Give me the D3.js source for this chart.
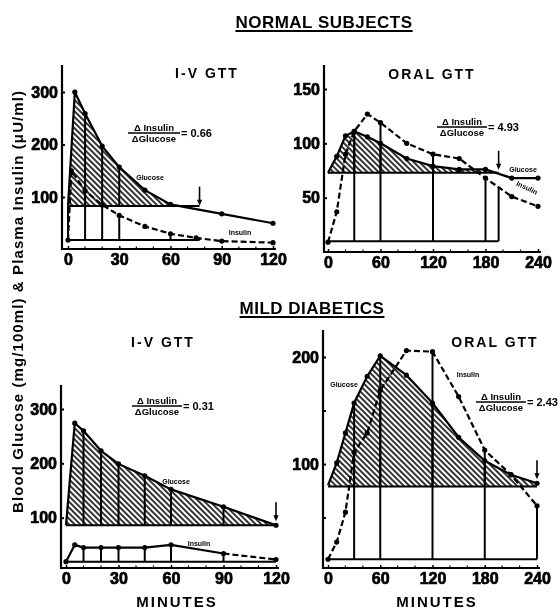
<!DOCTYPE html>
<meta charset="utf-8">
<head>
  <script src="https://cdnjs.cloudflare.com/ajax/libs/d3/7.8.5/d3.min.js"></script>
  <style>
    body { margin: 0; background: #fff; }
    svg { display: block; filter: grayscale(100%); }
    text { font-family: "Liberation Sans", Arial, sans-serif; font-weight: bold; fill: #000; }
    .num { font-family: "Liberation Sans Narrow", "Liberation Sans", sans-serif; font-size: 16px; stroke: #000; stroke-width: 0.7px; }
  </style>
</head>
<body>
<div id="my_dataviz"></div>
<script>

// ---- data ----
// normal subjects, i-v gtt
var nivGlucTimes = [0, 4, 10, 20, 30, 45, 60, 90, 120];
var nivGlucose   = [83, 300, 259, 197, 157, 113, 86, 68, 50];
var nivInsTimes  = [0, 2, 10, 20, 30, 45, 60, 75, 90, 120];
var nivInsulin   = [18, 150, 112, 85, 65, 44, 30, 22, 16, 13];

// normal subjects, oral gtt
var noTimes   = [0, 10, 20, 30, 45, 60, 90, 120, 150, 180, 210, 240];
var noGlucose = [73, 88, 107, 111, 106, 100, 86, 79, 76, 76, 68, 68];
var noInsulin = [9, 37, 90, 111, 127, 119, 100, 90, 86, 68, 51, 42];

// mild diabetics, i-v gtt
var mivTimes   = [0, 5, 10, 20, 30, 45, 60, 90, 120];
var mivGlucose = [86, 274, 260, 223, 199, 177, 152, 120, 86];
var mivInsulin = [19, 50, 45, 45, 45, 45, 50, 34, 23];

// mild diabetics, oral gtt
var moTimes   = [0, 10, 20, 30, 45, 60, 90, 120, 150, 180, 210, 240];
var moGlucose = [80, 101, 129, 157, 182, 201, 183, 157, 125, 103, 90, 82];
var moInsulin = [11, 27, 55, 111, 129, 169, 206, 205, 163, 113, 90, 61];

// fasting levels, end of test (arrow) and the ratio per panel
var fastingGlucose = [83, 73, 86, 79];
var fastingInsulin = [18, 10, 19, 11];
var endTimes = [77, 195, 120, 240];
var ratios = ["0.66", "4.93", "0.31", "2.43"];

// sample times where vertical strips are drawn
var nivGlucStrips = [10, 20, 30];
var nivInsStrips  = [10, 20, 30, 60, 77];
var noGlucStrips  = [30, 60, 120, 180];
var noInsStrips   = [30, 60, 120, 180, 195];
var mivGlucStrips = [10, 20, 30, 45, 60, 90];
var mivInsStrips  = [10, 20, 30, 45, 60, 90];
var moGlucStrips  = [30, 60, 120, 180];
var moInsStrips   = [30, 60, 120, 180, 240];

// ticks
var ivXTicks = [0, 30, 60, 90, 120];
var oralXTicks = [0, 60, 120, 180, 240];
var nivYTicks = [100, 200, 300];
var noYTicks = [50, 100, 150];
var mivYTicks = [100, 200, 300];
var moYTicks = [50, 100, 150, 200];
var moYLabels = [100, 200];

var panels = [
  { gT: nivGlucTimes, gV: nivGlucose, iT: nivInsTimes, iV: nivInsulin,
    gStrips: nivGlucStrips, iStrips: nivInsStrips,
    xDomain: [0, 120], xRange: [68, 273], xTicks: ivXTicks, minor: 10,
    yDomain: [0, 300], yRange: [249.5, 92], yTicks: nivYTicks, yLabels: nivYTicks,
    axisX: 62, axisTop: 65, axisY: 249, axisRight: 276,
    startLink: true, solidUntil: 0,
    title: "I-V GTT", titleX: 207, titleY: 78,
    frac: [154, 133, 52],
    gLab: [150, 180, 0], iLab: [240, 235, 0] },
  { gT: noTimes, gV: noGlucose, iT: noTimes, iV: noInsulin,
    gStrips: noGlucStrips, iStrips: noInsStrips,
    xDomain: [0, 240], xRange: [328, 538], xTicks: oralXTicks, minor: 20,
    yDomain: [0, 150], yRange: [252, 89], yTicks: noYTicks, yLabels: noYTicks,
    axisX: 324, axisTop: 65, axisY: 252, axisRight: 541,
    startLink: false, solidUntil: 0,
    title: "ORAL GTT", titleX: 432, titleY: 79,
    frac: [462, 127, 50],
    gLab: [523, 172, 0], iLab: [526, 190, 25] },
  { gT: mivTimes, gV: mivGlucose, iT: mivTimes, iV: mivInsulin,
    gStrips: mivGlucStrips, iStrips: mivInsStrips,
    xDomain: [0, 120], xRange: [66, 276], xTicks: ivXTicks, minor: 10,
    yDomain: [0, 300], yRange: [572, 409], yTicks: mivYTicks, yLabels: mivYTicks,
    axisX: 61, axisTop: 385, axisY: 568, axisRight: 279,
    startLink: false, solidUntil: 7,
    title: "I-V GTT", titleX: 163, titleY: 347,
    frac: [157, 406, 50],
    gLab: [176, 484, 0], iLab: [199, 546, 0] },
  { gT: moTimes, gV: moGlucose, iT: moTimes, iV: moInsulin,
    gStrips: moGlucStrips, iStrips: moInsStrips,
    xDomain: [0, 240], xRange: [328, 537], xTicks: oralXTicks, minor: 20,
    yDomain: [0, 200], yRange: [571, 357], yTicks: moYTicks, yLabels: moYLabels,
    axisX: 323, axisTop: 330, axisY: 568, axisRight: 540,
    startLink: false, solidUntil: 0,
    title: "ORAL GTT", titleX: 495, titleY: 347,
    frac: [501, 402, 50],
    gLab: [344, 387, 0], iLab: [468, 377, 0] }
];

var svg = d3.select("#my_dataviz")
  .append("svg")
  .attr("width", 560)
  .attr("height", 610);

var defs = svg.append("defs");
defs.append("pattern")
  .attr("id", "hatch")
  .attr("patternUnits", "userSpaceOnUse")
  .attr("width", 4).attr("height", 4)
  .attr("patternTransform", "rotate(-45)")
  .append("line")
  .attr("x1", 2).attr("x2", 2).attr("y1", -1).attr("y2", 5)
  .attr("stroke", "#000").attr("stroke-width", 1.6);

function valueAt(ts, vs, t) {
  return d3.scaleLinear().domain(ts).range(vs).clamp(true)(t);
}

panels.forEach(function (p, i) {
  var x = d3.scaleLinear().domain(p.xDomain).range(p.xRange);
  var y = d3.scaleLinear().domain(p.yDomain).range(p.yRange);
  var g = svg.append("g");
  var gBase = fastingGlucose[i], iBase = fastingInsulin[i], tEnd = endTimes[i];
  var gData = d3.zip(p.gT, p.gV), iData = d3.zip(p.iT, p.iV);

  // hatched glucose area above the fasting level
  defs.append("clipPath").attr("id", "clip" + i)
    .append("rect")
    .attr("x", x(0)).attr("y", 0)
    .attr("width", x(tEnd) - x(0))
    .attr("height", y(gBase));

  g.append("path")
    .datum(gData)
    .attr("clip-path", "url(#clip" + i + ")")
    .attr("fill", "url(#hatch)")
    .attr("d", d3.area()
      .x(function (d) { return x(d[0]); })
      .y0(y(gBase))
      .y1(function (d) { return y(d[1]); }));

  // baselines
  g.append("line")
    .attr("x1", x(0)).attr("x2", x(tEnd))
    .attr("y1", y(gBase)).attr("y2", y(gBase))
    .attr("stroke", "#000").attr("stroke-width", 2);
  g.append("line")
    .attr("x1", x(0)).attr("x2", x(tEnd))
    .attr("y1", y(iBase)).attr("y2", y(iBase))
    .attr("stroke", "#000").attr("stroke-width", 2);
  if (p.startLink) {
    g.append("line")
      .attr("x1", x(0)).attr("x2", x(0))
      .attr("y1", y(iBase)).attr("y2", y(gBase))
      .attr("stroke", "#000").attr("stroke-width", 2);
  }

  // vertical strips
  g.selectAll("gstrip")
    .data(p.gStrips)
    .enter()
    .append("line")
    .attr("x1", function (d) { return x(d); })
    .attr("x2", function (d) { return x(d); })
    .attr("y1", y(gBase))
    .attr("y2", function (d) { return y(valueAt(p.gT, p.gV, d)); })
    .attr("stroke", "#000").attr("stroke-width", 2);
  g.selectAll("istrip")
    .data(p.iStrips)
    .enter()
    .append("line")
    .attr("x1", function (d) { return x(d); })
    .attr("x2", function (d) { return x(d); })
    .attr("y1", y(iBase))
    .attr("y2", function (d) { return y(valueAt(p.iT, p.iV, d)); })
    .attr("stroke", "#000").attr("stroke-width", 2);

  var line = d3.line()
    .x(function (d) { return x(d[0]); })
    .y(function (d) { return y(d[1]); });

  // glucose (solid)
  g.append("path")
    .datum(gData)
    .attr("fill", "none")
    .attr("stroke", "#000").attr("stroke-width", 2.2)
    .attr("d", line);

  // insulin (dashed, or solid then dashed)
  if (p.solidUntil > 0) {
    g.append("path")
      .datum(iData.slice(0, p.solidUntil + 1))
      .attr("fill", "none")
      .attr("stroke", "#000").attr("stroke-width", 2.2)
      .attr("d", line);
    g.append("path")
      .datum(iData.slice(p.solidUntil))
      .attr("fill", "none")
      .attr("stroke", "#000").attr("stroke-width", 2.2)
      .attr("stroke-dasharray", "6,3")
      .attr("d", line);
  } else {
    g.append("path")
      .datum(iData)
      .attr("fill", "none")
      .attr("stroke", "#000").attr("stroke-width", 2.2)
      .attr("stroke-dasharray", "6,3")
      .attr("d", line);
  }

  // dots
  g.selectAll("gdot")
    .data(gData.slice(1))
    .enter()
    .append("circle")
    .attr("cx", function (d) { return x(d[0]); })
    .attr("cy", function (d) { return y(d[1]); })
    .attr("r", 2.6)
    .style("fill", "#000");
  g.selectAll("idot")
    .data(iData)
    .enter()
    .append("circle")
    .attr("cx", function (d) { return x(d[0]); })
    .attr("cy", function (d) { return y(d[1]); })
    .attr("r", 2.6)
    .style("fill", "#000");

  // arrow marking end of test
  var ay = y(valueAt(p.gT, p.gV, tEnd));
  g.append("line")
    .attr("x1", x(tEnd)).attr("x2", x(tEnd))
    .attr("y1", ay - 23).attr("y2", ay - 8)
    .attr("stroke", "#000").attr("stroke-width", 1.6);
  g.append("path")
    .attr("d", "M" + (x(tEnd) - 2.6) + "," + (ay - 10) + "L" + (x(tEnd) + 2.6) + "," + (ay - 10) + "L" + x(tEnd) + "," + (ay - 4) + "Z")
    .attr("fill", "#000");

  // axes
  g.append("g")
    .attr("transform", "translate(0," + p.axisY + ")")
    .call(d3.axisBottom(x).tickValues(p.xTicks).tickSize(-3).tickPadding(5))
    .call(function (a) { a.select(".domain").remove(); })
    .call(function (a) { a.selectAll("line").attr("stroke-width", 1.5); })
    .selectAll("text").attr("class", "num");

  g.selectAll("minor")
    .data(d3.range(p.xDomain[0], p.xDomain[1] + 1, p.minor).filter(function (d) { return p.xTicks.indexOf(d) < 0; }))
    .enter()
    .append("line")
    .attr("x1", function (d) { return x(d); })
    .attr("x2", function (d) { return x(d); })
    .attr("y1", p.axisY).attr("y2", p.axisY - 2.5)
    .attr("stroke", "#000").attr("stroke-width", 1.2);

  g.append("g")
    .attr("transform", "translate(" + p.axisX + ",0)")
    .call(d3.axisLeft(y).tickValues(p.yTicks).tickSize(-3).tickPadding(4)
      .tickFormat(function (d) { return p.yLabels.indexOf(d) >= 0 ? d : ""; }))
    .call(function (a) { a.select(".domain").remove(); })
    .call(function (a) { a.selectAll("line").attr("stroke-width", 2); })
    .selectAll("text").attr("class", "num");

  g.append("line")
    .attr("x1", p.axisX).attr("x2", p.axisX)
    .attr("y1", p.axisTop).attr("y2", p.axisY + 1)
    .attr("stroke", "#000").attr("stroke-width", 2.2);
  g.append("line")
    .attr("x1", p.axisX - 1).attr("x2", p.axisRight)
    .attr("y1", p.axisY).attr("y2", p.axisY)
    .attr("stroke", "#000").attr("stroke-width", 2.2);

  // panel title
  g.append("text")
    .attr("x", p.titleX).attr("y", p.titleY)
    .attr("text-anchor", "middle")
    .style("font-size", "14px")
    .style("letter-spacing", "2px")
    .text(p.title);

  // delta insulin / delta glucose
  var fx = p.frac[0], fy = p.frac[1], fw = p.frac[2];
  g.append("text")
    .attr("x", fx).attr("y", fy - 2)
    .attr("text-anchor", "middle")
    .style("font-size", "9.5px")
    .text("\u0394 Insulin");
  g.append("line")
    .attr("x1", fx - fw / 2).attr("x2", fx + fw / 2)
    .attr("y1", fy).attr("y2", fy)
    .attr("stroke", "#000").attr("stroke-width", 1.3);
  g.append("text")
    .attr("x", fx).attr("y", fy + 9)
    .attr("text-anchor", "middle")
    .style("font-size", "9.5px")
    .text("\u0394Glucose");
  g.append("text")
    .attr("x", fx + fw / 2 + 1).attr("y", fy + 4)
    .style("font-size", "11px")
    .text("= " + ratios[i]);

  // curve labels
  g.append("text")
    .attr("transform", "translate(" + p.gLab[0] + "," + p.gLab[1] + ") rotate(" + p.gLab[2] + ")")
    .attr("text-anchor", "middle")
    .style("font-size", "7px")
    .text("Glucose");
  g.append("text")
    .attr("transform", "translate(" + p.iLab[0] + "," + p.iLab[1] + ") rotate(" + p.iLab[2] + ")")
    .attr("text-anchor", "middle")
    .style("font-size", "7px")
    .text("Insulin");
});

// group headings, underlined
function heading(txt, cx, by) {
  var t = svg.append("text")
    .attr("x", cx).attr("y", by)
    .attr("text-anchor", "middle")
    .style("font-size", "17px")
    .style("letter-spacing", "0.5px")
    .text(txt);
  var w = t.node().getComputedTextLength();
  svg.append("line")
    .attr("x1", cx - w / 2).attr("x2", cx + w / 2)
    .attr("y1", by + 3).attr("y2", by + 3)
    .attr("stroke", "#000").attr("stroke-width", 2);
}
heading("NORMAL SUBJECTS", 324, 28);
heading("MILD DIABETICS", 312, 314);

// x titles
svg.append("text")
  .attr("x", 177).attr("y", 607)
  .attr("text-anchor", "middle")
  .style("font-size", "15px")
  .style("letter-spacing", "2px")
  .text("MINUTES");
svg.append("text")
  .attr("x", 437).attr("y", 607)
  .attr("text-anchor", "middle")
  .style("font-size", "15px")
  .style("letter-spacing", "2px")
  .text("MINUTES");

// y title
svg.append("text")
  .attr("transform", "translate(23,513) rotate(-90)")
  .attr("text-anchor", "start")
  .style("font-size", "15px")
  .style("letter-spacing", "1.1px")
  .text("Blood Glucose (mg/100ml) & Plasma Insulin (\u03bcU/ml)");

</script>
</body>
